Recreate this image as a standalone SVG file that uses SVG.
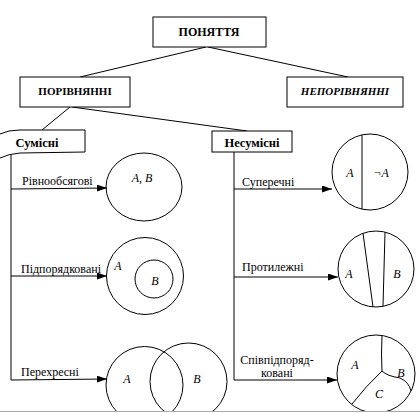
<svg xmlns="http://www.w3.org/2000/svg" width="420" height="413" viewBox="0 0 420 413">
<style>
.box{fill:#fff;stroke:#000;stroke-width:1}
.ln{fill:none;stroke:#000;stroke-width:1}
text{font-family:'Liberation Serif','Times New Roman','DejaVu Serif',serif;fill:#000}
.bt{font-weight:bold;text-anchor:middle}
.lb{font-size:12px}
.it{font-style:italic;font-size:12px;text-anchor:middle}
</style>
<defs>
<marker id="ar" markerUnits="userSpaceOnUse" markerWidth="10" markerHeight="7" refX="10" refY="3.5" orient="auto">
<path d="M0,0 L10,3.5 L0,7 z" fill="#000"/>
</marker>
</defs>
<rect width="420" height="413" fill="#fff"/>
<g id="connectors">
<path class="ln" d="M206,47 L80,77"/>
<path class="ln" d="M208,47 L348,77"/>
<path class="ln" d="M70,107 L42,130"/>
<path class="ln" d="M72,107 L247,131"/>
<path class="ln" d="M11,153 V380"/>
<path class="ln" d="M11,189 L107,188" marker-end="url(#ar)"/>
<path class="ln" d="M11,276 L107,276" marker-end="url(#ar)"/>
<path class="ln" d="M11,380 L107,379" marker-end="url(#ar)"/>
<path class="ln" d="M234,152 V380"/>
<path class="ln" d="M234,189 L332,189" marker-end="url(#ar)"/>
<path class="ln" d="M234,277 L338,277" marker-end="url(#ar)"/>
<path class="ln" d="M234,380 L337,380" marker-end="url(#ar)"/>
</g>
<g id="poniattia">
<rect class="box" x="153" y="17" width="113" height="30"/>
<text class="bt" x="209" y="36" font-size="12">ПОНЯТТЯ</text>
</g>
<g id="porivnianni">
<rect class="box" x="20" y="77" width="110" height="30"/>
<text class="bt" x="75" y="95" font-size="11">ПОРІВНЯННІ</text>
</g>
<g id="neporivnianni">
<rect class="box" x="287" y="77" width="116" height="30"/>
<text class="bt" x="345" y="95" font-size="11" font-style="italic">НЕПОРІВНЯННІ</text>
</g>
<g id="sumisni">
<path class="box" d="M0,134 Q8,130 20,130 L85,130 L85,152 L20,153 Q8,154 0,158"/>
<text class="bt" x="37" y="147" font-size="12.5">Сумісні</text>
</g>
<g id="nesumisni">
<rect class="box" x="212" y="131" width="80" height="21"/>
<text class="bt" x="252" y="147" font-size="12.5">Несумісні</text>
</g>
<g id="rivnoobsiagovi">
<text class="lb" x="22" y="185">Рівнообсягові</text>
<ellipse class="ln" cx="144" cy="187" rx="38" ry="34"/>
<text class="it" x="142" y="182">A,  B</text>
</g>
<g id="pidporiadkovani">
<text class="lb" x="21" y="273">Підпорядковані</text>
<circle class="ln" cx="145" cy="276" r="38.5"/>
<circle class="ln" cx="154" cy="279" r="19"/>
<text class="it" x="118" y="270">A</text>
<text class="it" x="155" y="285">B</text>
</g>
<g id="perekhresni">
<text class="lb" x="21" y="376">Перехресні</text>
<circle class="ln" cx="144.5" cy="385" r="38.5"/>
<circle class="ln" cx="188.5" cy="381.5" r="38.5"/>
<text class="it" x="127" y="383">A</text>
<text class="it" x="197" y="383">B</text>
</g>
<g id="superechni">
<text class="lb" x="242" y="186">Суперечні</text>
<circle class="ln" cx="370" cy="172" r="38"/>
<path class="ln" d="M362,134.9 L362,209.1"/>
<text class="it" x="350" y="177">A</text>
<text class="it" x="381" y="177" font-size="10">¬A</text>
</g>
<g id="protylezhni">
<text class="lb" x="242" y="271">Протилежні</text>
<circle class="ln" cx="376" cy="269" r="38"/>
<path class="ln" d="M363,233.3 L373,306.9"/>
<path class="ln" d="M385,232.1 L383,306.3"/>
<text class="it" x="349" y="278">A</text>
<text class="it" x="397" y="278">B</text>
</g>
<g id="spivpidporiadkovani">
<text class="lb" x="277" y="364" text-anchor="middle">Співпідпоряд-</text>
<text class="lb" x="277" y="377" text-anchor="middle">ковані</text>
<circle class="ln" cx="376" cy="374" r="39"/>
<path class="ln" d="M382,335.5 Q381,355 382,371"/>
<path class="ln" d="M382,371 Q366,386 352,404"/>
<path class="ln" d="M382,371 Q387,376 400,378 Q409,382 411,391"/>
<text class="it" x="355" y="369">A</text>
<text class="it" x="401" y="377">B</text>
<text class="it" x="379" y="398">C</text>
</g>
<rect x="0" y="411" width="420" height="2" fill="#fff"/>
<line x1="0" y1="411.5" x2="420" y2="411.5" stroke="#aaa" stroke-width="1.2"/>
</svg>
